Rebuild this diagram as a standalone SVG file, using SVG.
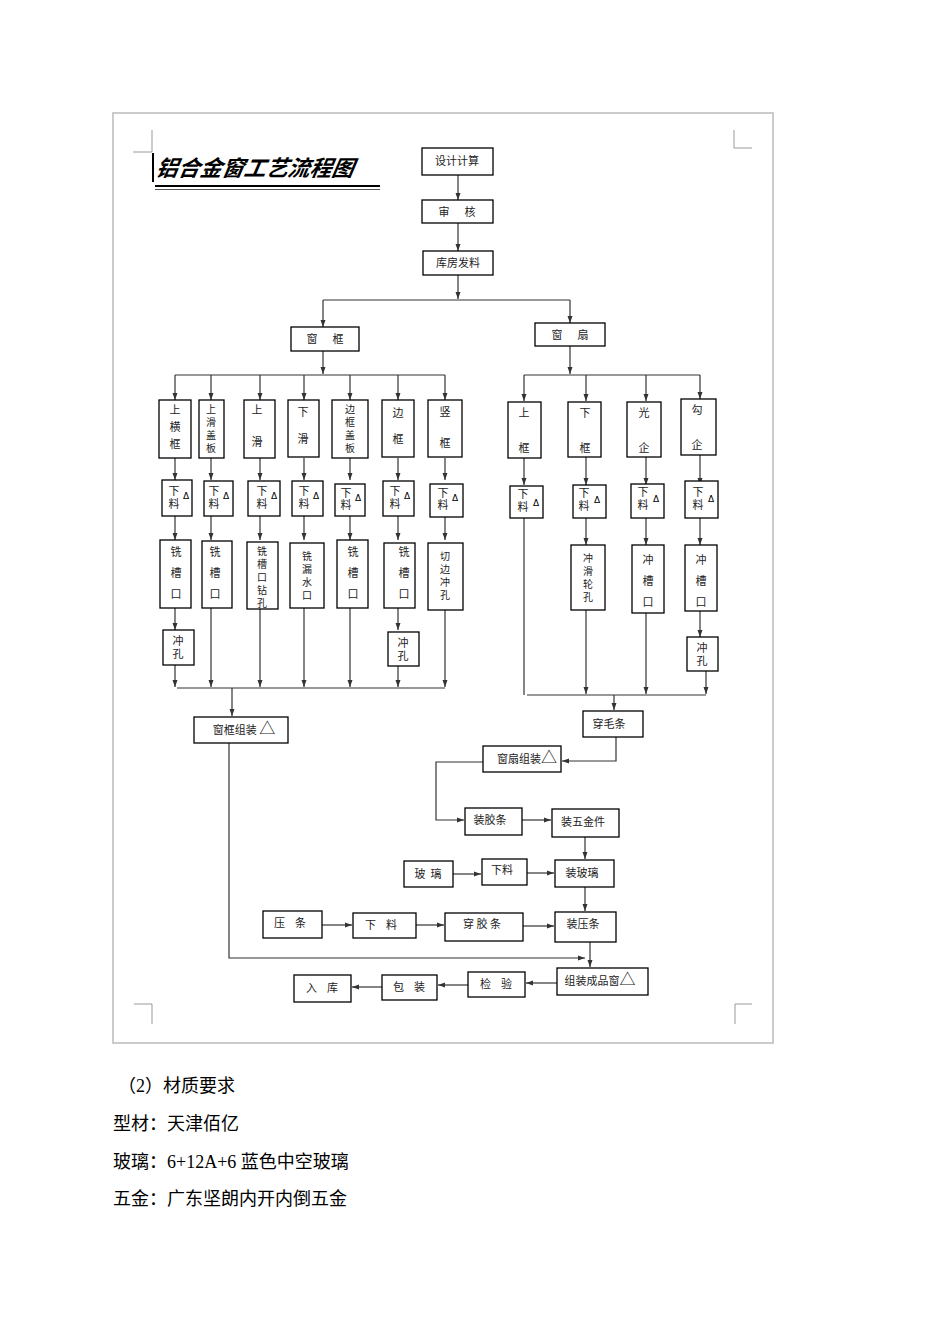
<svg xmlns="http://www.w3.org/2000/svg" width="950" height="1344" viewBox="0 0 950 1344">
<style>
.b{fill:#fff;stroke:#000;stroke-width:1.3}
.t{font-family:"Noto Sans CJK SC",sans-serif;font-size:11px;fill:#222;text-anchor:middle}
.s{font-family:"Noto Sans CJK SC",sans-serif;font-size:10px;fill:#222;text-anchor:middle}
.d{font-family:"DejaVu Sans",sans-serif;font-size:9px;fill:#000;text-anchor:middle}
.l{fill:none;stroke:#333;stroke-width:1.2}
.p{font-family:"Liberation Serif","Noto Sans CJK SC",serif;font-size:18px;fill:#000}
</style>
<defs><marker id="a" markerWidth="8" markerHeight="8" refX="7" refY="4" orient="auto" markerUnits="userSpaceOnUse"><path d="M0,1.5 L7,4 L0,6.5z" fill="#333"/></marker></defs>
<rect width="950" height="1344" fill="#fff"/>
<g id="page"><rect x="113" y="113" width="660" height="930" fill="none" stroke="#bbb" stroke-width="1.5"/>
<path d="M133,152 H152 V130 M734,130 V148 H752 M134,1004 H152 V1024 M752,1004 H735 V1024" fill="none" stroke="#999"/></g>
<g id="title"><line x1="153" y1="153" x2="153" y2="182" stroke="#000" stroke-width="2"/>
<text x="155" y="176" font-family="Noto Sans CJK SC,sans-serif" font-size="22" font-weight="bold" font-style="italic" transform="skewX(-10) translate(31,0)">铝合金窗工艺流程图</text>
<line x1="155" y1="186" x2="380" y2="186" stroke="#000" stroke-width="2"/><line x1="155" y1="189.5" x2="380" y2="189.5" stroke="#555" stroke-width="1"/></g>
<g id="connectors">
<path class="l" marker-end="url(#a)" d="M458,175 V200"/>
<path class="l" marker-end="url(#a)" d="M458,223 V251"/>
<path class="l" marker-end="url(#a)" d="M458,275 V299"/>
<path class="l" d="M323,300 H570"/>
<path class="l" marker-end="url(#a)" d="M323,300 V327"/>
<path class="l" marker-end="url(#a)" d="M570,300 V323"/>
<path class="l" marker-end="url(#a)" d="M323,351 V374"/>
<path class="l" d="M175,375 H445"/>
<path class="l" marker-end="url(#a)" d="M570,346 V374"/>
<path class="l" d="M524,375 H700"/>
<g marker-end="url(#a)" class="l">
<path d="M175,375 V400"/><path d="M211,375 V400"/><path d="M260,375 V400"/><path d="M304,375 V400"/><path d="M350,375 V400"/><path d="M398,375 V400"/><path d="M445,375 V400"/>
<path d="M175,458 V480"/><path d="M211,458 V480"/><path d="M260,458 V480"/><path d="M304,458 V480"/><path d="M350,458 V480"/><path d="M398,458 V480"/><path d="M445,458 V480"/>
<path d="M175,516 V540"/><path d="M211,516 V540"/><path d="M260,516 V540"/><path d="M304,516 V540"/><path d="M350,516 V540"/><path d="M398,516 V540"/><path d="M445,516 V540"/>
<path d="M175,608 V630"/><path d="M398,608 V630"/>
<path d="M175,665 V687"/><path d="M211,608 V687"/><path d="M260,609 V687"/><path d="M304,608 V687"/><path d="M350,608 V687"/><path d="M398,665 V687"/><path d="M445,610 V687"/>
<path d="M524,375 V401"/><path d="M586,375 V401"/><path d="M646,375 V401"/><path d="M700,375 V399"/>
<path d="M524,457 V485"/><path d="M586,457 V485"/><path d="M646,457 V485"/><path d="M700,455 V485"/>
<path d="M586,518 V545"/><path d="M646,518 V545"/><path d="M700,518 V545"/>
<path d="M700,611 V637"/>
<path d="M586,610 V694"/><path d="M646,613 V694"/><path d="M706,671 V694"/>
</g>
<path class="l" d="M524,518 V695"/>
<path class="l" d="M177,688 H445"/>
<path class="l" marker-end="url(#a)" d="M232,688 V716"/>
<path class="l" d="M527,695 H706"/>
<path class="l" marker-end="url(#a)" d="M614,695 V710"/>
<path class="l" marker-end="url(#a)" d="M616,737 V761 H562"/>
<path class="l" marker-end="url(#a)" d="M483,762 H436 V820 H464"/>
<path class="l" marker-end="url(#a)" d="M522,820 H551"/>
<path class="l" marker-end="url(#a)" d="M585,837 V859"/>
<path class="l" marker-end="url(#a)" d="M453,874 H481"/>
<path class="l" marker-end="url(#a)" d="M527,873 H554"/>
<path class="l" marker-end="url(#a)" d="M585,887 V911"/>
<path class="l" marker-end="url(#a)" d="M322,925 H352"/>
<path class="l" marker-end="url(#a)" d="M416,925 H444"/>
<path class="l" marker-end="url(#a)" d="M523,926 H554"/>
<path class="l" marker-end="url(#a)" d="M229,743 V958 H585"/>
<path class="l" marker-end="url(#a)" d="M590,942 V967"/>
<path class="l" marker-end="url(#a)" d="M557,983 H526"/>
<path class="l" marker-end="url(#a)" d="M468,985 H438"/>
<path class="l" marker-end="url(#a)" d="M382,987 H352"/>
</g>
<g id="n1"><rect class="b" x="422" y="148" width="71" height="27"/><text class="t" x="457" y="165">设计计算</text></g>
<g id="n2"><rect class="b" x="422" y="200" width="71" height="23"/><text class="t" x="457" y="216" xml:space="preserve">审      核</text></g>
<g id="n3"><rect class="b" x="423" y="251" width="70" height="24"/><text class="t" x="458" y="267">库房发料</text></g>
<g id="n4"><rect class="b" x="291" y="327" width="68" height="24"/><text class="t" x="325" y="343" xml:space="preserve">窗      框</text></g>
<g id="n5"><rect class="b" x="535" y="323" width="70" height="23"/><text class="t" x="570" y="339" xml:space="preserve">窗      扇</text></g>
<g id="c1"><rect class="b" x="159" y="400" width="32" height="58"/><text class="t" x="175" y="414">上<tspan x="175" dy="17">横</tspan><tspan x="175" dy="17">框</tspan></text></g>
<g id="c2"><rect class="b" x="199" y="400" width="25" height="58"/><text class="s" x="211" y="413">上<tspan x="211" dy="13">滑</tspan><tspan x="211" dy="13">盖</tspan><tspan x="211" dy="13">板</tspan></text></g>
<g id="c3"><rect class="b" x="244" y="400" width="31" height="58"/><text class="t" x="257" y="414">上<tspan x="257" dy="32">滑</tspan></text></g>
<g id="c4"><rect class="b" x="288" y="400" width="31" height="57"/><text class="t" x="303" y="416">下<tspan x="303" dy="27">滑</tspan></text></g>
<g id="c5"><rect class="b" x="332" y="400" width="36" height="58"/><text class="s" x="350" y="413">边<tspan x="350" dy="13">框</tspan><tspan x="350" dy="13">盖</tspan><tspan x="350" dy="13">板</tspan></text></g>
<g id="c6"><rect class="b" x="382" y="400" width="32" height="57"/><text class="t" x="398" y="417">边<tspan x="398" dy="26">框</tspan></text></g>
<g id="c7"><rect class="b" x="428" y="400" width="34" height="57"/><text class="t" x="445" y="416">竖<tspan x="445" dy="31">框</tspan></text></g>
<g id="d1"><rect class="b" x="162" y="480" width="30" height="36"/><text class="t" x="174" y="495">下<tspan x="174" dy="13">料</tspan></text><text class="d" x="186" y="499">Δ</text></g>
<g id="d2"><rect class="b" x="204" y="481" width="29" height="35"/><text class="t" x="214" y="495">下<tspan x="214" dy="13">料</tspan></text><text class="d" x="226" y="499">Δ</text></g>
<g id="d3"><rect class="b" x="248" y="481" width="32" height="35"/><text class="t" x="262" y="495">下<tspan x="262" dy="13">料</tspan></text><text class="d" x="274" y="499">Δ</text></g>
<g id="d4"><rect class="b" x="292" y="481" width="31" height="35"/><text class="t" x="304" y="495">下<tspan x="304" dy="13">料</tspan></text><text class="d" x="316" y="499">Δ</text></g>
<g id="d5"><rect class="b" x="335" y="484" width="30" height="32"/><text class="t" x="346" y="497">下<tspan x="346" dy="12">料</tspan></text><text class="d" x="358" y="501">Δ</text></g>
<g id="d6"><rect class="b" x="383" y="481" width="31" height="35"/><text class="t" x="395" y="495">下<tspan x="395" dy="13">料</tspan></text><text class="d" x="407" y="499">Δ</text></g>
<g id="d7"><rect class="b" x="430" y="484" width="33" height="33"/><text class="t" x="443" y="497">下<tspan x="443" dy="12">料</tspan></text><text class="d" x="455" y="501">Δ</text></g>
<g id="e1"><rect class="b" x="160" y="540" width="31" height="68"/><text class="t" x="176" y="556">铣<tspan x="176" dy="21">槽</tspan><tspan x="176" dy="21">口</tspan></text></g>
<g id="e2"><rect class="b" x="202" y="541" width="30" height="67"/><text class="t" x="215" y="556">铣<tspan x="215" dy="21">槽</tspan><tspan x="215" dy="21">口</tspan></text></g>
<g id="e3"><rect class="b" x="247" y="542" width="31" height="67"/><text class="s" x="262" y="555">铣<tspan x="262" dy="13">槽</tspan><tspan x="262" dy="13">口</tspan><tspan x="262" dy="13">钻</tspan><tspan x="262" dy="13">孔</tspan></text></g>
<g id="e4"><rect class="b" x="290" y="543" width="34" height="65"/><text class="s" x="307" y="560">铣<tspan x="307" dy="13">漏</tspan><tspan x="307" dy="13">水</tspan><tspan x="307" dy="13">口</tspan></text></g>
<g id="e5"><rect class="b" x="337" y="540" width="31" height="68"/><text class="t" x="353" y="556">铣<tspan x="353" dy="21">槽</tspan><tspan x="353" dy="21">口</tspan></text></g>
<g id="e6"><rect class="b" x="384" y="543" width="31" height="65"/><text class="t" x="404" y="556">铣<tspan x="404" dy="21">槽</tspan><tspan x="404" dy="21">口</tspan></text></g>
<g id="e7"><rect class="b" x="428" y="543" width="35" height="67"/><text class="s" x="445" y="560">切<tspan x="445" dy="13">边</tspan><tspan x="445" dy="13">冲</tspan><tspan x="445" dy="13">孔</tspan></text></g>
<g id="f1"><rect class="b" x="163" y="630" width="31" height="35"/><text class="t" x="178" y="645">冲<tspan x="178" dy="13">孔</tspan></text></g>
<g id="f6"><rect class="b" x="388" y="632" width="31" height="34"/><text class="t" x="403" y="647">冲<tspan x="403" dy="13">孔</tspan></text></g>
<g id="r1"><rect class="b" x="508" y="402" width="33" height="56"/><text class="t" x="524" y="417">上<tspan x="524" dy="35">框</tspan></text></g>
<g id="r2"><rect class="b" x="568" y="402" width="33" height="55"/><text class="t" x="585" y="417">下<tspan x="585" dy="35">框</tspan></text></g>
<g id="r3"><rect class="b" x="627" y="402" width="34" height="55"/><text class="t" x="644" y="417">光<tspan x="644" dy="35">企</tspan></text></g>
<g id="r4"><rect class="b" x="681" y="399" width="35" height="56"/><text class="t" x="697" y="414">勾<tspan x="697" dy="35">企</tspan></text></g>
<g id="s1"><rect class="b" x="510" y="486" width="33" height="32"/><text class="t" x="523" y="498">下<tspan x="523" dy="13">料</tspan></text><text class="d" x="536" y="506">Δ</text></g>
<g id="s2"><rect class="b" x="573" y="485" width="33" height="33"/><text class="t" x="584" y="497">下<tspan x="584" dy="13">料</tspan></text><text class="d" x="597" y="503">Δ</text></g>
<g id="s3"><rect class="b" x="631" y="484" width="33" height="34"/><text class="t" x="643" y="496">下<tspan x="643" dy="13">料</tspan></text><text class="d" x="656" y="502">Δ</text></g>
<g id="s4"><rect class="b" x="685" y="481" width="33" height="37"/><text class="t" x="698" y="496">下<tspan x="698" dy="13">料</tspan></text><text class="d" x="711" y="502">Δ</text></g>
<g id="u2"><rect class="b" x="571" y="545" width="34" height="65"/><text class="s" x="588" y="562">冲<tspan x="588" dy="13">滑</tspan><tspan x="588" dy="13">轮</tspan><tspan x="588" dy="13">孔</tspan></text></g>
<g id="u3"><rect class="b" x="632" y="545" width="32" height="68"/><text class="t" x="648" y="564">冲<tspan x="648" dy="21">槽</tspan><tspan x="648" dy="21">口</tspan></text></g>
<g id="u4"><rect class="b" x="685" y="545" width="32" height="66"/><text class="t" x="701" y="564">冲<tspan x="701" dy="21">槽</tspan><tspan x="701" dy="21">口</tspan></text></g>
<g id="v4"><rect class="b" x="687" y="637" width="31" height="34"/><text class="t" x="702" y="652">冲<tspan x="702" dy="13">孔</tspan></text></g>
<g id="g1"><rect class="b" x="194" y="717" width="94" height="26"/><text class="t" x="244" y="734">窗框组装 <tspan font-size="16">△</tspan></text></g>
<g id="g2"><rect class="b" x="583" y="711" width="60" height="26"/><text class="t" x="609" y="728">穿毛条</text></g>
<g id="g3"><rect class="b" x="483" y="746" width="78" height="26"/><text class="t" x="527" y="763">窗扇组装<tspan font-size="16">△</tspan></text></g>
<g id="g4"><rect class="b" x="465" y="808" width="57" height="27"/><text class="t" x="490" y="824">装胶条</text></g>
<g id="g5"><rect class="b" x="552" y="809" width="67" height="28"/><text class="t" x="583" y="826">装五金件</text></g>
<g id="g6"><rect class="b" x="404" y="861" width="49" height="26"/><text class="t" x="428" y="878" xml:space="preserve">玻  璃</text></g>
<g id="g7"><rect class="b" x="482" y="859" width="45" height="26"/><text class="t" x="502" y="874">下料</text></g>
<g id="g8"><rect class="b" x="555" y="860" width="59" height="27"/><text class="t" x="582" y="877">装玻璃</text></g>
<g id="g9"><rect class="b" x="263" y="911" width="59" height="27"/><text class="t" x="290" y="927" xml:space="preserve">压    条</text></g>
<g id="g10"><rect class="b" x="353" y="913" width="63" height="25"/><text class="t" x="381" y="929" xml:space="preserve">下    料</text></g>
<g id="g11"><rect class="b" x="445" y="913" width="78" height="28"/><text class="t" x="482" y="928" xml:space="preserve">穿 胶 条</text></g>
<g id="g12"><rect class="b" x="555" y="912" width="61" height="30"/><text class="t" x="583" y="928">装压条</text></g>
<g id="g13"><rect class="b" x="557" y="968" width="91" height="27"/><text class="t" x="600" y="985">组装成品窗<tspan font-size="16">△</tspan></text></g>
<g id="g14"><rect class="b" x="468" y="972" width="57" height="25"/><text class="t" x="496" y="988" xml:space="preserve">检    验</text></g>
<g id="g15"><rect class="b" x="382" y="975" width="55" height="25"/><text class="t" x="409" y="991" xml:space="preserve">包    装</text></g>
<g id="g16"><rect class="b" x="294" y="975" width="57" height="27"/><text class="t" x="322" y="992" xml:space="preserve">入    库</text></g>
<g id="body">
<text class="p" x="118" y="1092">（2）材质要求</text>
<text class="p" x="113" y="1130">型材：天津佰亿</text>
<text class="p" x="113" y="1168">玻璃：6+12A+6 蓝色中空玻璃</text>
<text class="p" x="113" y="1205">五金：广东坚朗内开内倒五金</text>
</g>
</svg>
